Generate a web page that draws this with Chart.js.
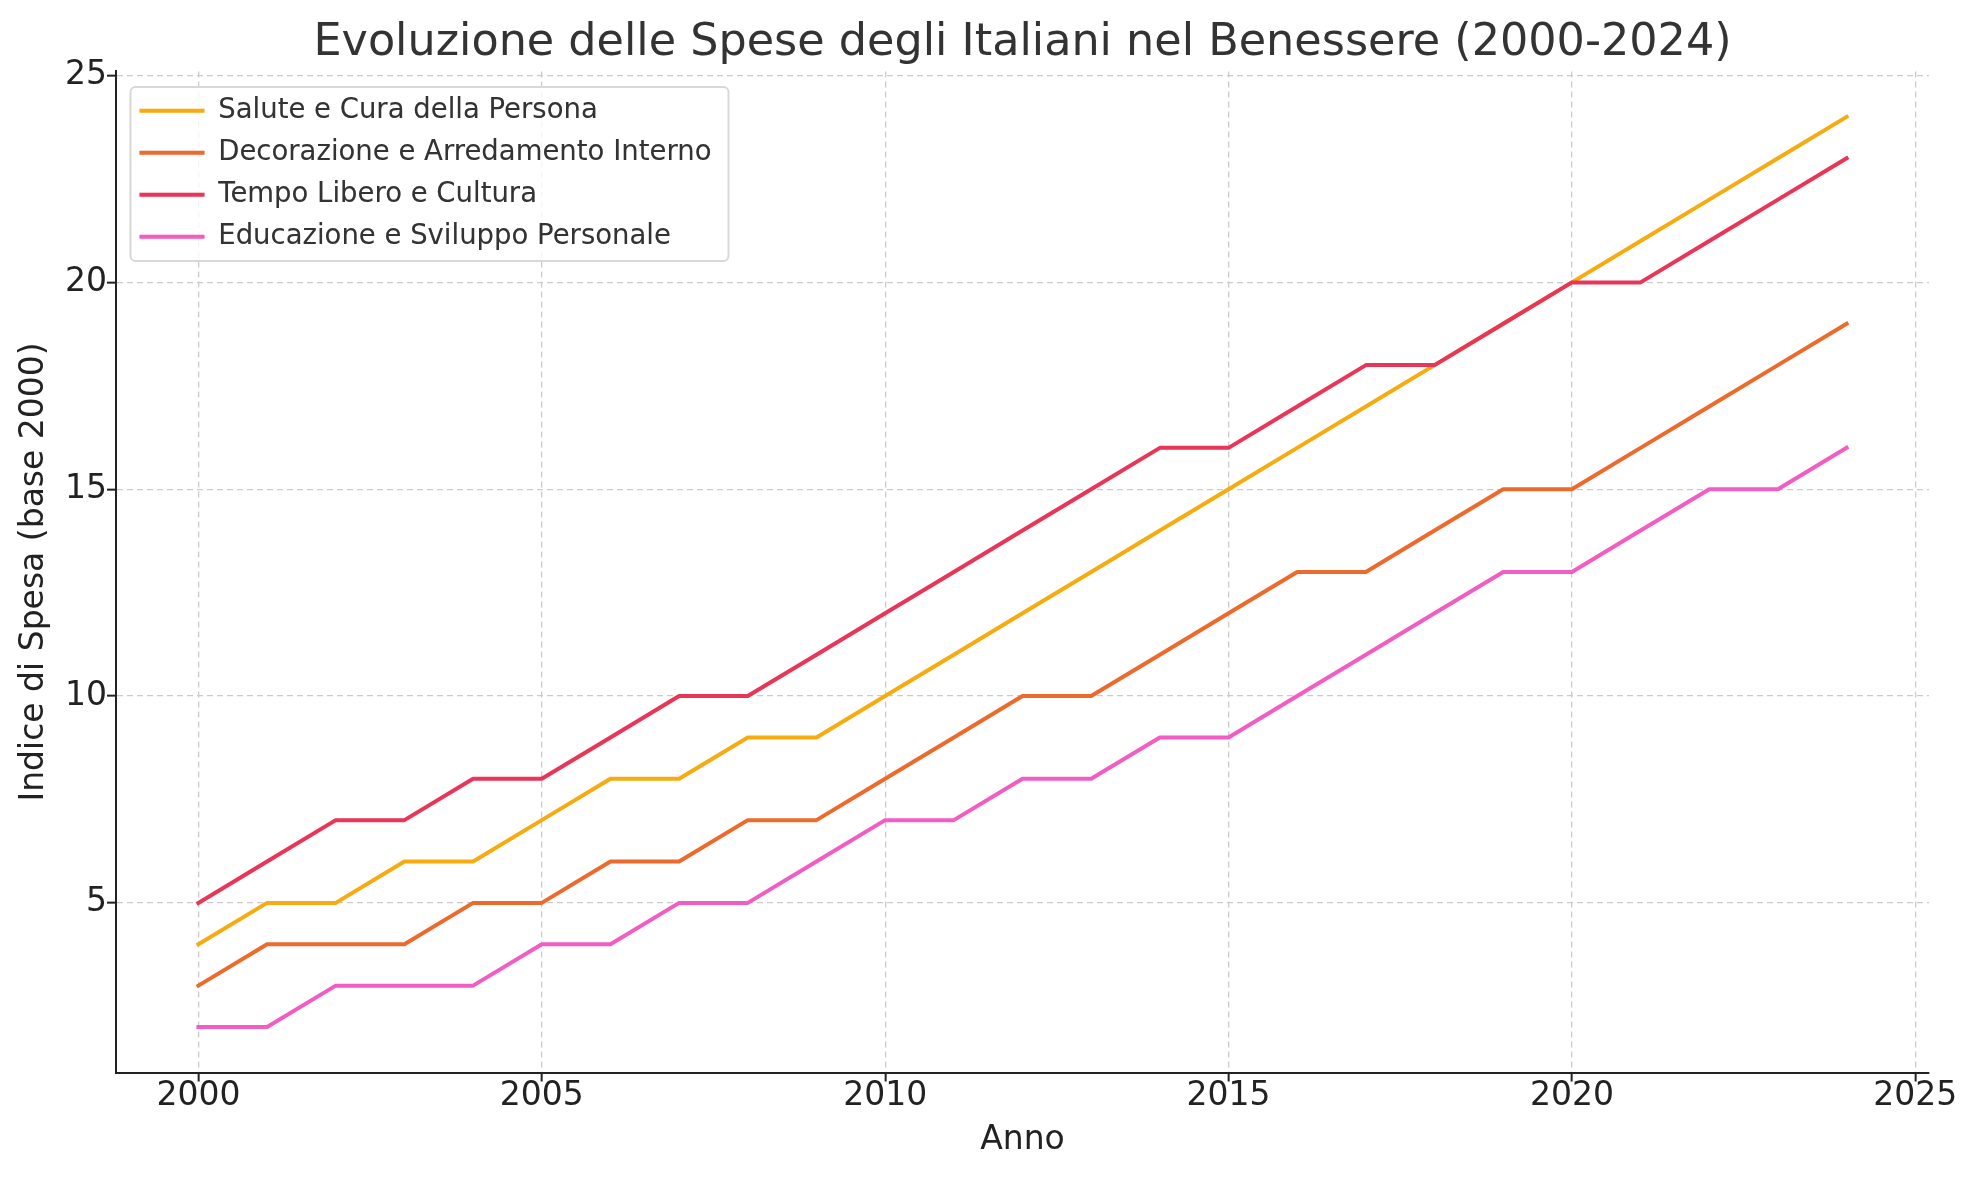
<!DOCTYPE html>
<html>
<head>
<meta charset="utf-8">
<script src="https://cdn.jsdelivr.net/npm/chart.js@4.4.1/dist/chart.umd.min.js"></script>
<style>
  html, body { margin: 0; padding: 0; background: #fff; }
  #wrap { width: 1978px; height: 1180px; }
</style>
</head>
<body>
<div id="wrap"><canvas id="myChart"></canvas></div>
<script>
// Data
const years = [2000, 2001, 2002, 2003, 2004, 2005, 2006, 2007, 2008, 2009, 2010, 2011, 2012,
  2013, 2014, 2015, 2016, 2017, 2018, 2019, 2020, 2021, 2022, 2023, 2024];
const salute = [4, 5, 5, 6, 6, 7, 8, 8, 9, 9, 10, 11, 12, 13, 14, 15, 16, 17, 18, 19, 20, 21, 22, 23, 24];
const decorazione = [3, 4, 4, 4, 5, 5, 6, 6, 7, 7, 8, 9, 10, 10, 11, 12, 13, 13, 14, 15, 15, 16, 17, 18, 19];
const tempoLibero = [5, 6, 7, 7, 8, 8, 9, 10, 10, 11, 12, 13, 14, 15, 16, 16, 17, 18, 18, 19, 20, 20, 21, 22, 23];
const educazione = [2, 2, 3, 3, 3, 4, 4, 5, 5, 6, 7, 7, 8, 8, 9, 9, 10, 11, 12, 13, 13, 14, 15, 15, 16];
const seriesNames = ['Salute e Cura della Persona', 'Decorazione e Arredamento Interno',
  'Tempo Libero e Cultura', 'Educazione e Sviluppo Personale'];
const xTicks = [2000, 2005, 2010, 2015, 2020, 2025];
const yTicks = [5, 10, 15, 20, 25];

document.addEventListener('DOMContentLoaded', function () {
  const colors = ['#f6ac10', '#ec6b2c', '#e83558', '#f25dc4'];
  const series = [salute, decorazione, tempoLibero, educazione];
  const font = 'DejaVu Sans';
  const gridColor = '#cbcbcb';

  const toPoints = (vals) => years.map((yr, i) => ({ x: yr, y: vals[i] }));

  // title centred over the axes, legend moved inside them with a rounded frame
  const layoutTweaks = {
    id: 'layoutTweaks',
    afterLayout(chart) {
      const area = chart.chartArea;
      const title = chart.titleBlock;
      title.left = area.left;
      title.right = area.right;
      title.width = area.right - area.left;
      const legend = chart.legend;
      legend.left = area.left + 9;
      legend.top = area.top + 11;
    },
    beforeDatasetsDraw(chart) {
      const legend = chart.legend;
      const boxes = legend.legendHitBoxes;
      if (!boxes || !boxes.length) return;
      const left = boxes[0].left - 9;
      const top = boxes[0].top - 10;
      let right = 0;
      boxes.forEach((b) => { right = Math.max(right, b.left + b.width); });
      right += 17;
      const bottom = boxes[boxes.length - 1].top + 38;
      const c = chart.ctx;
      c.save();
      c.beginPath();
      c.roundRect(left, top, right - left, bottom - top, 5);
      c.fillStyle = 'rgba(255,255,255,0.8)';
      c.fill();
      c.lineWidth = 2;
      c.strokeStyle = '#d8d8d8';
      c.stroke();
      c.restore();
      legend.draw(chart.chartArea);
    },
  };

  const ctx = document.getElementById('myChart');
  new Chart(ctx, {
    type: 'line',
    data: {
      datasets: series.map((vals, i) => ({
        label: seriesNames[i],
        data: toPoints(vals),
        borderColor: colors[i],
        backgroundColor: colors[i],
        borderWidth: 4,
        pointRadius: 0,
        tension: 0,
        borderJoinStyle: 'round',
        borderCapStyle: 'square',
        order: series.length - i,
      })),
    },
    options: {
      responsive: true,
      maintainAspectRatio: false,
      animation: false,
      layout: { padding: { left: 0, right: 49, top: 0, bottom: 0 } },
      plugins: {
        tooltip: { enabled: false },
        title: {
          display: true,
          text: 'Evoluzione delle Spese degli Italiani nel Benessere (2000-2024)',
          color: '#333',
          font: { family: font, size: 44.5, weight: 'normal' },
          padding: { top: 17, bottom: 1 },
        },
        legend: {
          position: 'chartArea',
          align: 'start',
          labels: {
            color: '#333',
            font: { family: font, size: 27.5 },
            boxWidth: 65,
            boxHeight: 4,
            padding: 14.5,
            sort: (a, b) => a.datasetIndex - b.datasetIndex,
            generateLabels(chart) {
              const items = Chart.defaults.plugins.legend.labels.generateLabels(chart);
              items.forEach((it) => { it.lineWidth = 0; it.fillStyle = it.strokeStyle; });
              return items;
            },
          },
        },
      },
      scales: {
        x: {
          type: 'linear',
          min: 1998.8,
          max: 2025.2,
          afterBuildTicks(scale) { scale.ticks = xTicks.map((v) => ({ value: v })); },
          afterFit(scale) { scale.height = 107.5; },
          ticks: {
            color: '#222',
            padding: -5,
            font: { family: font, size: 33 },
            callback: (v) => String(v),
          },
          grid: { color: gridColor, lineWidth: 1.3, tickLength: 9, tickColor: '#222', tickWidth: 2 },
          border: { display: true, color: '#222', width: 2, dash: [6, 4] },
          title: {
            display: true,
            text: 'Anno',
            color: '#222',
            font: { family: font, size: 33 },
            padding: { top: 0, bottom: 20 },
          },
        },
        y: {
          type: 'linear',
          min: 0.9,
          max: 25.1,
          afterBuildTicks(scale) { scale.ticks = yTicks.map((v) => ({ value: v })); },
          afterFit(scale) { scale.width = 116; },
          ticks: {
            color: '#222',
            padding: 0,
            font: { family: font, size: 33 },
            callback: (v) => String(v),
          },
          grid: { color: gridColor, lineWidth: 1.3, tickLength: 9, tickColor: '#222', tickWidth: 2 },
          border: { display: true, color: '#222', width: 2, dash: [6, 4] },
          title: {
            display: true,
            text: 'Indice di Spesa (base 2000)',
            color: '#222',
            font: { family: font, size: 33 },
            padding: { top: 15, bottom: 0 },
          },
        },
      },
    },
    plugins: [layoutTweaks],
  });
});
</script>
</body>
</html>
